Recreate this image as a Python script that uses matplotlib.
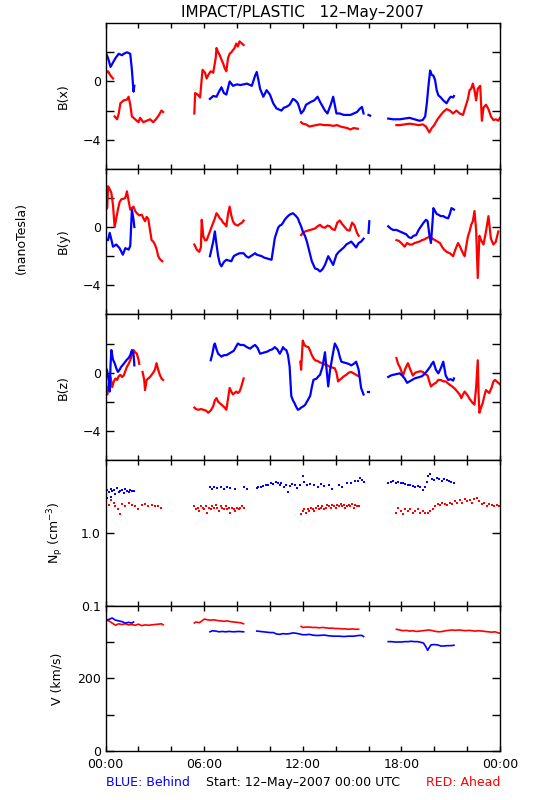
import numpy as np
import matplotlib
matplotlib.use("Agg")
import matplotlib.pyplot as plt
from matplotlib.ticker import FixedLocator, FixedFormatter, NullLocator

BLUE = "#0000ff"
RED = "#ff0000"

# values: each series is a list of segments of (hour, value)
bx_behind = [
    [(0.0, 2.0), (0.15, 1.6), (0.3, 1.0), (0.45, 1.3), (0.6, 1.6), (0.8, 1.9), (1.0, 1.8), (1.1, 1.9),
     (1.3, 2.0), (1.5, 1.9), (1.6, 0.8), (1.7, -0.7), (1.75, -0.3)],
    [(6.35, -1.2), (6.55, -1.0), (6.75, -1.05), (6.9, -0.7), (7.05, -0.4), (7.2, -0.8), (7.35, -0.9),
     (7.55, 0.0), (7.75, -0.3), (8.0, -0.2), (8.2, -0.25), (8.4, -0.2), (8.6, -0.15), (8.9, -0.3),
     (9.1, 0.4), (9.2, 0.65), (9.3, 0.1), (9.4, -0.5), (9.6, -1.05), (9.8, -0.6), (10.0, -0.9),
     (10.2, -1.5), (10.4, -1.85), (10.7, -2.0), (10.85, -1.8), (11.0, -1.75), (11.2, -1.6), (11.4, -1.2),
     (11.55, -1.3), (11.7, -1.5), (11.9, -2.2), (12.05, -2.0), (12.2, -1.6), (12.35, -1.5), (12.5, -1.4),
     (12.7, -1.3), (12.9, -1.05), (13.05, -1.4), (13.2, -1.7), (13.35, -2.0), (13.5, -2.2), (13.7, -1.6),
     (13.85, -1.05), (14.05, -2.2), (14.25, -2.2), (14.5, -2.3), (14.7, -2.3), (14.9, -2.3), (15.1, -2.2),
     (15.3, -2.1), (15.45, -1.9), (15.6, -1.75), (15.7, -2.2)],
    [(16.0, -2.3), (16.1, -2.35)],
    [(17.2, -2.55), (17.5, -2.6), (17.9, -2.6), (18.2, -2.55), (18.5, -2.5), (18.8, -2.6), (19.1, -2.7),
     (19.3, -2.65), (19.45, -2.4), (19.55, -1.5), (19.65, -0.3), (19.75, 0.75), (19.85, 0.45), (19.95, 0.4),
     (20.05, 0.1), (20.15, -0.6), (20.25, -0.95), (20.4, -1.1), (20.55, -1.3), (20.75, -1.5), (20.9, -1.2),
     (21.0, -1.05), (21.15, -1.1), (21.2, -1.0)],
]
bx_ahead = [
    [(0.05, 0.6), (0.15, 0.7), (0.3, 0.4), (0.45, 0.2)],
    [(0.55, -2.4), (0.7, -2.6), (0.8, -2.2), (0.9, -1.5), (1.1, -1.3), (1.3, -1.25), (1.4, -1.05),
     (1.5, -1.6), (1.6, -2.4), (1.8, -2.6), (2.0, -2.8), (2.1, -2.5), (2.3, -2.8), (2.5, -2.7), (2.7, -2.6),
     (2.9, -2.8), (3.1, -2.55), (3.25, -2.3), (3.4, -2.0), (3.5, -2.1)],
    [(5.4, -2.2), (5.45, -0.8), (5.6, -0.9), (5.75, -1.1), (5.9, 0.8), (6.05, 0.6), (6.15, 0.2),
     (6.25, 0.45), (6.4, 0.7), (6.55, 0.6), (6.7, 1.6), (6.75, 2.3), (6.85, 2.0), (6.95, 1.8), (7.05, 1.5),
     (7.15, 1.25), (7.25, 0.9), (7.35, 0.7), (7.45, 1.6), (7.55, 1.9), (7.65, 2.0), (7.75, 2.15),
     (7.85, 2.3), (7.95, 2.6), (8.05, 2.4), (8.15, 2.75), (8.3, 2.6), (8.4, 2.5)],
    [(11.9, -2.8), (12.0, -2.9), (12.2, -2.95), (12.4, -3.1), (12.6, -3.05), (12.8, -3.0), (13.05, -2.95),
     (13.3, -3.0), (13.6, -3.0), (13.85, -3.05), (14.1, -3.0), (14.3, -3.1), (14.5, -3.15), (14.7, -3.2),
     (14.9, -3.3), (15.1, -3.2), (15.35, -3.25)],
    [(17.7, -3.0), (17.9, -3.0), (18.2, -2.95), (18.5, -2.9), (18.8, -2.95), (19.05, -3.0), (19.3, -2.95),
     (19.5, -3.1), (19.7, -3.5), (19.85, -3.2), (20.0, -3.0), (20.2, -2.6), (20.4, -2.3), (20.55, -2.1),
     (20.75, -1.9), (20.95, -2.0), (21.15, -2.2), (21.35, -2.0), (21.55, -2.2), (21.75, -2.3), (21.9, -1.75),
     (22.05, -1.2), (22.15, -0.6), (22.25, -0.5), (22.35, -0.15), (22.45, -0.6), (22.55, -1.3), (22.65, -0.5),
     (22.8, -0.3), (22.9, -2.7), (23.0, -1.8), (23.15, -1.6), (23.3, -1.9), (23.45, -2.4), (23.6, -2.65),
     (23.75, -2.6), (23.9, -2.7), (24.0, -2.5)],
]

by_behind = [
    [(0.0, -0.85), (0.15, -0.9), (0.25, -0.4), (0.35, -0.85), (0.45, -1.35), (0.65, -1.2), (0.85, -1.45),
     (1.05, -1.9), (1.2, -1.45), (1.4, -1.55), (1.5, -1.3), (1.6, 1.2), (1.7, 0.5), (1.75, 0.0)],
    [(6.35, -2.0), (6.45, -1.5), (6.55, -1.0), (6.65, -0.3), (6.75, -1.2), (6.85, -2.0), (6.95, -2.5),
     (7.05, -2.7), (7.2, -2.4), (7.35, -2.25), (7.5, -2.3), (7.65, -2.35), (7.8, -2.0), (7.95, -1.9),
     (8.15, -1.8), (8.4, -1.8), (8.55, -2.0), (8.7, -2.1), (9.1, -1.8), (9.2, -1.9), (9.35, -1.95),
     (9.5, -2.0), (9.65, -2.1), (9.8, -2.15), (9.95, -2.2), (10.1, -2.25), (10.2, -1.5), (10.3, -0.75),
     (10.4, -0.4), (10.5, -0.05), (10.6, 0.1), (10.7, 0.15), (10.8, 0.3), (10.9, 0.5), (11.05, 0.7),
     (11.2, 0.85), (11.3, 0.9), (11.4, 0.95), (11.55, 0.8), (11.7, 0.6), (11.8, 0.3), (11.9, 0.05),
     (12.0, -0.3), (12.15, -0.65), (12.25, -1.0), (12.35, -1.45), (12.45, -1.9), (12.55, -2.35),
     (12.65, -2.6), (12.75, -2.85), (12.9, -2.9), (13.05, -3.05), (13.2, -2.9), (13.35, -2.6), (13.45, -2.3),
     (13.55, -2.0), (13.7, -2.3), (13.85, -2.6), (14.05, -1.9), (14.2, -1.7), (14.35, -1.55), (14.5, -1.4),
     (14.65, -1.2), (14.8, -1.1), (14.95, -1.0), (15.1, -1.2), (15.25, -1.4), (15.4, -1.1), (15.55, -1.0),
     (15.7, -0.8)],
    [(16.0, -0.4), (16.05, 0.4)],
    [(17.2, 0.05), (17.35, -0.1), (17.5, -0.2), (17.7, -0.2), (17.9, -0.3), (18.1, -0.4), (18.3, -0.5),
     (18.45, -0.7), (18.6, -0.75), (18.75, -0.6), (18.9, -0.55), (19.05, -0.2), (19.2, 0.05), (19.35, 0.3),
     (19.5, 0.5), (19.6, 0.4), (19.7, -0.5), (19.8, -1.1), (19.9, 0.4), (19.95, 1.3), (20.05, 1.1),
     (20.15, 0.9), (20.25, 0.85), (20.4, 0.75), (20.55, 0.75), (20.7, 0.65), (20.85, 0.6), (20.95, 0.9),
     (21.05, 1.3), (21.2, 1.2)],
]
by_ahead = [
    [(0.0, 1.2), (0.1, 1.3), (0.15, 2.8), (0.25, 2.6), (0.35, 2.35), (0.45, 1.5), (0.55, 0.0), (0.65, 0.6),
     (0.75, 1.2), (0.85, 1.7), (0.95, 1.9), (1.1, 1.95), (1.2, 2.0), (1.3, 2.45), (1.4, 1.8), (1.5, 1.2),
     (1.6, 1.3), (1.7, 1.4), (1.8, 1.1), (1.9, 0.95), (2.05, 0.8), (2.2, 0.85), (2.3, 0.6), (2.4, 0.4),
     (2.5, 0.7), (2.6, 0.55), (2.7, -0.2), (2.8, -0.9), (2.9, -1.0), (3.0, -1.2), (3.1, -1.5), (3.2, -2.0),
     (3.3, -2.2), (3.45, -2.35)],
    [(5.4, -1.2), (5.55, -1.55), (5.7, -1.7), (5.8, -1.4), (5.85, 0.5), (5.95, -0.65), (6.05, -0.9),
     (6.15, -0.9), (6.25, -0.6), (6.35, -0.3), (6.45, 0.0), (6.55, 0.3), (6.65, 0.6), (6.75, 0.95),
     (6.85, 0.8), (6.95, 0.6), (7.05, 0.5), (7.15, 0.3), (7.25, 0.2), (7.35, 0.05), (7.45, 0.9), (7.55, 1.4),
     (7.65, 0.8), (7.75, 0.4), (7.85, 0.2), (7.95, 0.15), (8.05, 0.1), (8.15, 0.2), (8.3, 0.3), (8.4, 0.45)],
    [(11.9, -0.55), (12.0, -0.4), (12.15, -0.3), (12.3, -0.25), (12.45, -0.2), (12.6, -0.15), (12.75, -0.1),
     (12.9, 0.05), (13.05, 0.15), (13.2, 0.0), (13.35, -0.05), (13.5, 0.1), (13.65, 0.05), (13.8, -0.15),
     (13.95, -0.2), (14.1, 0.3), (14.25, 0.45), (14.4, 0.2), (14.55, 0.0), (14.7, -0.2), (14.85, -0.25),
     (15.0, 0.3), (15.15, 0.1), (15.3, -0.4), (15.4, -0.6)],
    [(17.7, -0.9), (17.85, -0.95), (18.0, -1.1), (18.2, -1.35), (18.35, -1.1), (18.5, -1.2), (18.65, -1.2),
     (18.8, -1.1), (18.95, -1.05), (19.1, -1.0), (19.25, -0.9), (19.4, -0.85), (19.55, -0.75), (19.75, -0.65),
     (19.9, -0.8), (20.05, -0.9), (20.2, -1.0), (20.35, -1.1), (20.5, -1.4), (20.6, -1.55), (20.75, -1.7),
     (20.95, -1.8), (21.15, -2.0), (21.3, -1.5), (21.45, -1.1), (21.55, -1.3), (21.65, -1.55), (21.75, -1.8),
     (21.85, -2.0), (21.95, -1.3), (22.05, -0.65), (22.15, -0.3), (22.25, 0.15), (22.35, 0.4), (22.45, 1.1),
     (22.55, -0.2), (22.65, -3.5), (22.75, -0.6), (22.85, -0.9), (23.0, -1.2), (23.15, -0.3), (23.3, 0.75),
     (23.45, -0.8), (23.6, -1.2), (23.75, -1.0), (23.9, -0.3)],
]

bz_behind = [
    [(0.0, 0.4), (0.1, 0.1), (0.2, -0.6), (0.25, -1.3), (0.3, 0.5), (0.35, 1.55), (0.45, 0.9), (0.55, 0.65),
     (0.65, 0.3), (0.75, 0.05), (0.85, 0.2), (0.95, 0.4), (1.1, 0.6), (1.2, 0.75), (1.3, 0.9), (1.4, 1.0),
     (1.5, 1.2), (1.6, 1.55), (1.7, 1.3), (1.75, 0.5)],
    [(6.4, 0.85), (6.5, 1.3), (6.6, 1.9), (6.65, 2.0), (6.75, 1.6), (6.85, 1.3), (6.95, 1.2), (7.05, 1.1),
     (7.2, 1.2), (7.35, 1.2), (7.5, 1.3), (7.65, 1.4), (7.8, 1.5), (7.95, 1.8), (8.05, 2.0), (8.2, 1.9),
     (8.4, 1.9), (8.6, 1.75), (8.8, 1.65), (8.95, 1.8), (9.1, 1.9), (9.25, 1.7), (9.4, 1.3), (9.55, 1.35),
     (9.7, 1.4), (9.85, 1.45), (10.0, 1.55), (10.15, 1.6), (10.3, 1.75), (10.45, 1.6), (10.6, 1.3),
     (10.7, 1.5), (10.8, 1.75), (10.9, 1.6), (11.0, 1.55), (11.1, 1.2), (11.2, 0.4), (11.3, -1.6),
     (11.4, -1.9), (11.5, -2.1), (11.6, -2.35), (11.7, -2.55), (11.8, -2.5), (11.9, -2.4), (12.05, -2.3),
     (12.15, -2.2), (12.3, -1.9), (12.45, -1.6), (12.55, -1.0), (12.65, -0.5), (12.75, -0.45), (12.85, -0.4),
     (12.95, -0.25), (13.05, -0.15), (13.2, 0.4), (13.35, 1.4), (13.45, 0.2), (13.55, -0.95), (13.65, 0.1),
     (13.75, 0.75), (13.85, 1.4), (13.95, 2.0), (14.05, 1.8), (14.15, 1.55), (14.25, 1.1), (14.35, 0.75),
     (14.5, 0.7), (14.65, 0.65), (14.8, 0.6), (14.95, 0.5), (15.1, 0.6), (15.25, 0.75), (15.4, 0.2),
     (15.55, -1.05), (15.7, -1.5)],
    [(15.95, -1.3), (16.05, -1.3)],
    [(17.2, -0.3), (17.35, -0.2), (17.5, -0.15), (17.7, -0.1), (17.9, -0.05), (18.05, -0.2), (18.2, -0.4),
     (18.35, -0.7), (18.5, -0.6), (18.65, -0.5), (18.8, -0.4), (18.95, -0.35), (19.1, -0.3), (19.25, -0.25),
     (19.4, -0.1), (19.55, 0.1), (19.75, 0.4), (19.85, 0.6), (19.95, 0.75), (20.1, 0.2), (20.25, -0.05),
     (20.4, 0.3), (20.55, 0.75), (20.7, -0.2), (20.85, -0.5), (21.0, -0.45), (21.15, -0.55), (21.2, -0.4)],
]
bz_ahead = [
    [(0.05, -1.05), (0.1, -1.5), (0.2, -0.7), (0.3, -0.3), (0.4, -1.0), (0.5, -0.6), (0.6, -0.4), (0.7, -0.5),
     (0.8, -0.25), (0.9, -0.15), (1.0, -0.3), (1.1, -0.2), (1.2, 0.1), (1.3, 0.4), (1.4, 0.6), (1.5, 0.85),
     (1.6, 1.2), (1.7, 1.55), (1.8, 1.4), (1.9, 1.3), (2.0, 0.9), (2.05, 0.6)],
    [(2.25, 0.05), (2.35, -0.5), (2.4, -1.2), (2.5, -0.5), (2.6, -0.4), (2.7, -0.3), (2.8, -0.15), (2.9, 0.0),
     (3.0, 0.2), (3.1, 0.65), (3.2, 0.2), (3.3, -0.15), (3.4, -0.4), (3.5, -0.5)],
    [(5.4, -2.4), (5.5, -2.5), (5.65, -2.55), (5.8, -2.5), (5.95, -2.55), (6.1, -2.6), (6.25, -2.75),
     (6.4, -2.6), (6.55, -2.3), (6.65, -1.9), (6.75, -1.75), (6.85, -2.0), (6.95, -2.1), (7.05, -2.2),
     (7.15, -2.3), (7.25, -2.4), (7.35, -2.55), (7.45, -1.8), (7.55, -1.05), (7.65, -1.3), (7.75, -1.5),
     (7.85, -1.4), (7.95, -1.3), (8.05, -1.4), (8.15, -1.3), (8.25, -1.0), (8.35, -0.6), (8.4, -0.4)],
    [(11.85, 0.75), (11.9, 0.2), (12.0, 2.2), (12.1, 1.9), (12.2, 1.8), (12.35, 1.75), (12.45, 1.5),
     (12.55, 1.2), (12.65, 1.0), (12.75, 0.85), (12.9, 0.8), (13.05, 0.7), (13.2, 0.65), (13.35, 0.55),
     (13.5, 0.5), (13.65, 0.4), (13.8, 0.35), (13.95, 0.3), (14.05, 0.0), (14.15, -0.6), (14.25, -0.5),
     (14.35, -0.4), (14.5, -0.25), (14.65, -0.15), (14.8, 0.0), (14.95, 0.05), (15.1, -0.05), (15.25, -0.15),
     (15.4, -0.25)],
    [(17.7, 1.0), (17.8, 0.6), (17.9, 0.4), (18.0, 0.1), (18.1, -0.2), (18.25, 0.3), (18.4, 0.65),
     (18.55, 0.2), (18.7, -0.2), (18.85, 0.0), (19.0, 0.05), (19.15, 0.1), (19.3, 0.05), (19.45, -0.1),
     (19.6, -0.2), (19.7, -0.6), (19.8, -0.95), (19.95, -0.8), (20.1, -0.7), (20.25, -0.5), (20.4, -0.5),
     (20.55, -0.6), (20.7, -0.6), (20.9, -0.8), (21.1, -0.95), (21.25, -1.1), (21.4, -1.3), (21.55, -1.5),
     (21.65, -1.75), (21.75, -1.5), (21.85, -1.3), (21.95, -1.45), (22.05, -1.6), (22.15, -1.8),
     (22.25, -1.95), (22.35, -2.1), (22.45, -2.2), (22.55, -1.0), (22.65, 0.85), (22.7, -1.5), (22.75, -2.75),
     (22.85, -2.4), (22.95, -2.1), (23.05, -1.6), (23.15, -1.2), (23.25, -1.3), (23.35, -1.4), (23.5, -1.0),
     (23.6, -0.6), (23.7, -0.5), (23.8, -0.6), (23.9, -0.7), (24.0, -0.8)],
]

np_behind = [
    [(0.0, 3.5), (0.1, 3.9), (0.1, 3.0), (0.2, 3.6), (0.3, 4.0), (0.3, 3.1), (0.4, 3.7), (0.5, 3.9),
     (0.6, 3.4), (0.7, 4.1), (0.8, 3.6), (0.9, 3.8), (1.0, 3.9), (1.1, 3.5), (1.2, 4.0), (1.3, 3.7),
     (1.4, 3.6), (1.5, 3.9), (1.6, 3.7), (1.7, 3.8)],
    [(6.35, 4.2), (6.45, 4.0), (6.6, 4.3), (6.8, 4.1), (7.0, 4.2), (7.2, 4.0), (7.4, 4.2), (7.6, 4.1),
     (7.9, 4.0), (8.4, 4.2), (8.6, 4.0), (9.2, 4.1), (9.3, 4.3), (9.45, 4.2), (9.6, 4.4), (9.75, 4.5),
     (9.9, 4.6), (10.05, 4.8), (10.2, 4.7), (10.35, 5.0), (10.5, 4.9), (10.6, 4.5), (10.7, 4.8), (10.85, 4.2),
     (11.0, 4.6), (11.1, 3.6), (11.2, 4.4), (11.35, 4.7), (11.5, 4.5), (11.65, 4.1), (11.85, 4.6),
     (12.0, 6.0), (12.05, 5.0), (12.25, 4.6), (12.45, 4.7), (12.7, 4.5), (12.9, 4.3), (13.1, 4.7),
     (13.3, 4.4), (13.6, 4.5), (13.8, 4.0), (14.2, 4.6), (14.4, 4.3), (14.7, 4.9), (14.95, 4.8), (15.2, 5.2),
     (15.35, 5.1), (15.5, 5.6), (15.6, 5.3), (15.7, 5.0)],
    [(17.2, 4.9), (17.35, 5.0), (17.5, 5.1), (17.65, 4.9), (17.8, 5.0), (17.95, 4.8), (18.1, 4.9),
     (18.25, 4.7), (18.4, 4.6), (18.55, 4.5), (18.7, 4.4), (18.85, 4.3), (19.0, 4.4), (19.15, 4.2),
     (19.3, 3.9), (19.45, 4.3), (19.55, 5.0), (19.65, 6.1), (19.75, 6.4), (19.85, 5.5), (20.0, 5.3),
     (20.15, 5.6), (20.3, 5.4), (20.45, 5.2), (20.6, 5.5), (20.75, 5.3), (20.9, 5.1), (21.05, 5.0),
     (21.2, 4.9)],
]
np_ahead = [
    [(0.05, 2.6), (0.2, 2.4), (0.35, 2.8), (0.5, 2.6), (0.6, 2.3), (0.75, 2.1), (0.85, 1.8), (1.0, 2.5),
     (1.2, 2.3), (1.4, 2.6), (1.6, 2.4), (1.8, 2.3), (2.0, 2.1), (2.2, 2.4), (2.4, 2.5), (2.6, 2.3),
     (2.8, 2.4), (3.0, 2.3), (3.2, 2.3), (3.4, 2.2)],
    [(5.4, 2.3), (5.5, 2.1), (5.6, 2.2), (5.7, 2.0), (5.8, 2.3), (5.9, 2.2), (6.0, 2.1), (6.1, 2.3),
     (6.2, 1.9), (6.3, 2.2), (6.4, 2.1), (6.5, 2.3), (6.6, 2.2), (6.7, 2.4), (6.8, 2.2), (6.9, 2.0),
     (7.0, 2.3), (7.1, 2.2), (7.2, 2.1), (7.3, 2.3), (7.4, 2.1), (7.5, 2.2), (7.6, 1.9), (7.7, 2.2),
     (7.8, 2.1), (7.9, 2.0), (8.0, 2.2), (8.1, 2.1), (8.2, 2.2), (8.3, 2.3), (8.4, 2.2)],
    [(11.9, 1.8), (12.0, 2.0), (12.1, 2.1), (12.2, 1.9), (12.3, 2.1), (12.4, 2.0), (12.5, 2.2), (12.6, 2.1),
     (12.7, 2.0), (12.8, 2.2), (12.9, 2.3), (13.0, 2.1), (13.1, 2.2), (13.2, 2.3), (13.3, 2.1), (13.4, 2.2),
     (13.5, 2.4), (13.6, 2.3), (13.7, 2.2), (13.8, 2.4), (13.9, 2.3), (14.0, 2.2), (14.1, 2.4), (14.2, 2.3),
     (14.3, 2.5), (14.4, 2.3), (14.5, 2.4), (14.6, 2.2), (14.7, 2.3), (14.8, 2.4), (14.9, 2.3), (15.0, 2.5),
     (15.1, 2.2), (15.2, 2.4), (15.3, 2.3), (15.4, 2.3)],
    [(17.7, 1.9), (17.8, 2.2), (17.95, 2.0), (18.1, 1.8), (18.25, 2.1), (18.4, 2.0), (18.55, 2.1),
     (18.7, 1.9), (18.85, 2.0), (19.0, 2.1), (19.15, 1.9), (19.3, 2.0), (19.45, 1.9), (19.6, 1.85),
     (19.75, 2.0), (19.9, 2.1), (20.05, 2.3), (20.2, 2.5), (20.35, 2.4), (20.5, 2.6), (20.65, 2.5),
     (20.8, 2.4), (20.95, 2.6), (21.1, 2.5), (21.25, 2.7), (21.4, 2.6), (21.55, 2.8), (21.7, 2.6),
     (21.85, 2.9), (22.0, 2.7), (22.15, 2.8), (22.3, 2.6), (22.45, 2.9), (22.6, 3.0), (22.75, 2.7),
     (22.9, 2.5), (23.05, 2.6), (23.2, 2.3), (23.35, 2.5), (23.5, 2.4), (23.65, 2.3), (23.8, 2.4),
     (23.95, 2.3)],
]

v_behind = [
    [(0.0, 360), (0.2, 362), (0.4, 366), (0.6, 360), (0.8, 358), (1.0, 356), (1.2, 352), (1.4, 354),
     (1.6, 352), (1.7, 355)],
    [(6.35, 328), (6.5, 331), (6.7, 330), (6.9, 328), (7.1, 329), (7.3, 328), (7.5, 329), (7.8, 328),
     (8.1, 329), (8.4, 328)],
    [(9.2, 330), (9.4, 329), (9.6, 328), (9.8, 327), (10.0, 326), (10.2, 326), (10.4, 322), (10.6, 321),
     (10.8, 323), (11.0, 322), (11.2, 323), (11.4, 325), (11.6, 324), (11.8, 322), (12.0, 320), (12.2, 320),
     (12.4, 321), (12.6, 319), (12.8, 318), (13.0, 318), (13.3, 319), (13.6, 317), (13.9, 316), (14.2, 316),
     (14.5, 315), (14.8, 316), (15.1, 316), (15.4, 318), (15.6, 318), (15.7, 315)],
    [(17.2, 301), (17.4, 301), (17.6, 300), (17.8, 300), (18.0, 300), (18.2, 301), (18.4, 301), (18.6, 302),
     (18.8, 301), (19.0, 301), (19.2, 299), (19.35, 297), (19.45, 290), (19.55, 282), (19.6, 277),
     (19.7, 285), (19.8, 292), (20.0, 293), (20.2, 292), (20.4, 289), (20.6, 289), (20.8, 290), (21.0, 290),
     (21.2, 291)],
]
v_ahead = [
    [(0.0, 360), (0.2, 358), (0.4, 352), (0.6, 346), (0.8, 350), (1.0, 348), (1.2, 350), (1.4, 347),
     (1.6, 348), (1.8, 346), (2.0, 349), (2.2, 345), (2.4, 347), (2.6, 346), (2.8, 347), (3.0, 348),
     (3.2, 349), (3.4, 350), (3.5, 347)],
    [(5.4, 352), (5.5, 355), (5.7, 353), (5.9, 359), (6.0, 363), (6.2, 361), (6.4, 360), (6.6, 361),
     (6.8, 359), (7.0, 358), (7.2, 357), (7.4, 358), (7.6, 356), (7.8, 355), (8.0, 354), (8.2, 353),
     (8.4, 350)],
    [(11.9, 343), (12.0, 340), (12.2, 341), (12.4, 341), (12.6, 340), (12.8, 340), (13.0, 339), (13.2, 340),
     (13.4, 339), (13.6, 338), (13.8, 338), (14.0, 337), (14.2, 337), (14.4, 336), (14.6, 336), (14.8, 335),
     (15.0, 336), (15.2, 335), (15.4, 335)],
    [(17.7, 335), (17.9, 333), (18.1, 331), (18.3, 332), (18.5, 330), (18.7, 331), (18.9, 329), (19.1, 330),
     (19.3, 331), (19.5, 332), (19.7, 333), (19.9, 331), (20.1, 329), (20.3, 328), (20.5, 329), (20.7, 331),
     (20.9, 332), (21.1, 333), (21.3, 332), (21.5, 333), (21.7, 332), (21.9, 331), (22.1, 332), (22.3, 331),
     (22.5, 330), (22.7, 331), (22.9, 330), (23.1, 329), (23.3, 328), (23.5, 327), (23.7, 328), (23.9, 325),
     (24.0, 324)],
]

hour_ticks = [0, 6, 12, 18, 24]
hour_labels = ["00:00", "06:00", "12:00", "18:00", "00:00"]


def draw(ax, segments, color, dots=False, lw=1.6):
    for seg in segments:
        t, v = zip(*seg)
        if dots:
            ax.plot(t, v, ls="none", marker="s", ms=1.5, mew=0, color=color)
        else:
            ax.plot(t, v, color=color, lw=lw)


fig = plt.figure(figsize=(5.5, 8), dpi=100)
gs = fig.add_gridspec(5, 1, left=0.192, right=0.909, top=0.971, bottom=0.061, hspace=0)
axes = [fig.add_subplot(gs[i]) for i in range(5)]

panels = [
    (bx_behind, bx_ahead, "B(x)"),
    (by_behind, by_ahead, "B(y)"),
    (bz_behind, bz_ahead, "B(z)"),
]
for ax, (behind, ahead, label) in zip(axes[:3], panels):
    draw(ax, ahead, RED)
    draw(ax, behind, BLUE)
    ax.set_ylim(-6, 4)
    ax.yaxis.set_major_locator(FixedLocator([-4, 0]))
    ax.yaxis.set_minor_locator(FixedLocator([-2, 2]))
    ax.set_ylabel(label, fontsize=9)
    ax.yaxis.set_label_coords(-0.09, 0.5)

ax = axes[3]
draw(ax, np_ahead, RED, dots=True)
draw(ax, np_behind, BLUE, dots=True)
ax.set_yscale("log")
ax.set_ylim(0.1, 10)
ax.yaxis.set_major_locator(FixedLocator([0.1, 1.0]))
ax.yaxis.set_major_formatter(FixedFormatter(["0.1", "1.0"]))
ax.yaxis.set_minor_locator(NullLocator())
ax.set_ylabel(r"N$_{\rm p}$ (cm$^{-3}$)", fontsize=9)
ax.yaxis.set_label_coords(-0.1, 0.5)

ax = axes[4]
draw(ax, v_ahead, RED, lw=1.2)
draw(ax, v_behind, BLUE, lw=1.2)
ax.set_ylim(0, 400)
ax.yaxis.set_major_locator(FixedLocator([0, 200]))
ax.yaxis.set_minor_locator(FixedLocator([100, 300]))
ax.set_ylabel("V (km/s)", fontsize=9)
ax.yaxis.set_label_coords(-0.108, 0.5)

for i, ax in enumerate(axes):
    ax.set_xlim(0, 24)
    ax.xaxis.set_major_locator(FixedLocator(hour_ticks))
    ax.xaxis.set_minor_locator(FixedLocator(range(0, 25, 2)))
    ax.tick_params(which="both", direction="in", top=True, right=True, labelsize=9, width=1)
    ax.tick_params(axis="x", which="both", length=3.6, pad=5)
    ax.tick_params(axis="y", which="both", length=5.8, pad=3.5)
    for spine in ax.spines.values():
        spine.set_linewidth(1)
    if i < 4:
        ax.tick_params(labelbottom=False)
axes[4].xaxis.set_major_formatter(FixedFormatter(hour_labels))

fig.text(0.55, 1 - 12 / 800, "IMPACT/PLASTIC   12\u2013May\u20132007", ha="center", va="center", fontsize=11)
fig.text(21 / 550, 1 - 238 / 800, "(nanoTesla)", rotation=90, ha="center", va="center", fontsize=9)
fig.text(0.192, 0.022, "BLUE: Behind", color=BLUE, ha="left", va="center", fontsize=9)
fig.text(0.55, 0.022, "Start: 12\u2013May\u20132007 00:00 UTC", ha="center", va="center", fontsize=9)
fig.text(0.909, 0.022, "RED: Ahead", color=RED, ha="right", va="center", fontsize=9)

fig.savefig("out.png", dpi=100)
